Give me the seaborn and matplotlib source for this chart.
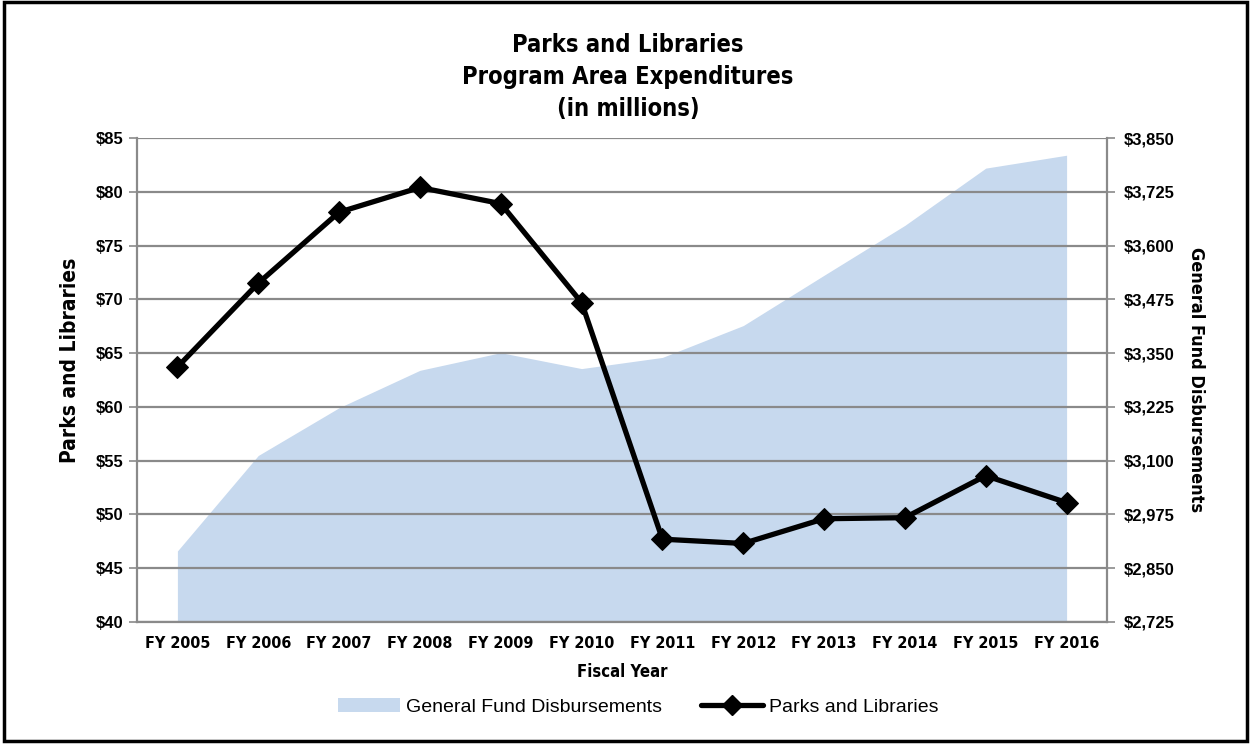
import pandas as pd
import matplotlib.pyplot as plt
import seaborn as sns
from matplotlib.patches import Patch, Rectangle
from matplotlib.lines import Line2D
from matplotlib.ticker import FuncFormatter, FixedLocator

# -----------------------------
# Data ($ millions)
# -----------------------------
fiscal_years = ["FY 2005", "FY 2006", "FY 2007", "FY 2008", "FY 2009", "FY 2010",
                "FY 2011", "FY 2012", "FY 2013", "FY 2014", "FY 2015", "FY 2016"]
parks_libraries = [63.7, 71.5, 78.1, 80.4, 78.9, 69.7, 47.7, 47.3, 49.6, 49.7, 53.6, 51.1]
general_fund = [2890, 3112, 3223, 3310, 3351, 3314, 3340, 3414, 3531, 3647, 3780, 3810]

left_ticks = [40, 45, 50, 55, 60, 65, 70, 75, 80, 85]
right_ticks = [2725, 2850, 2975, 3100, 3225, 3350, 3475, 3600, 3725, 3850]

df = pd.DataFrame({"year": fiscal_years, "parks": parks_libraries, "gf": general_fund})

# -----------------------------
# Style
# -----------------------------
sns.set_style("white")
plt.rcParams["font.family"] = ["Liberation Sans", "DejaVu Sans"]
plt.rcParams["text.color"] = "black"
plt.rcParams["axes.labelcolor"] = "black"
NARROW = dict(family="DejaVu Sans", stretch="condensed", fontweight="bold", color="black")

AREA_COLOR = "#c7d9ee"
GRID_COLOR = "#8a8a8a"

fig = plt.figure(figsize=(12.51, 7.44), dpi=100)
ax = fig.add_axes([0.1095, 0.164, 0.7754, 0.6505])
ax2 = ax.twinx()

# general fund area on the right axis (behind)
pos = list(range(len(fiscal_years)))
ax2.fill_between(pos, general_fund, right_ticks[0], color=AREA_COLOR, linewidth=0)
ax2.set_ylim(right_ticks[0], right_ticks[-1])

# parks and libraries line on the left axis (in front)
ax.set_zorder(ax2.get_zorder() + 1)
ax.patch.set_visible(False)
sns.lineplot(data=df, x="year", y="parks", ax=ax, color="black", linewidth=3.8,
             marker="D", markersize=11, markeredgecolor="black", sort=False)
ax.set_ylim(left_ticks[0], left_ticks[-1])
ax.set_xlim(-0.5, len(fiscal_years) - 0.5)
ax2.set_xlim(-0.5, len(fiscal_years) - 0.5)

# grid and ticks
ax.set_yticks(left_ticks)
ax.yaxis.set_major_formatter(FuncFormatter(lambda v, p: f"${v:,.0f}"))
ax.grid(axis="y", color=GRID_COLOR, linewidth=1.6)
ax.set_xticks(pos)
ax.set_xticklabels(fiscal_years, fontsize=11.5, **NARROW)
ax.xaxis.set_minor_locator(FixedLocator([p + 0.5 for p in pos[:-1]]))
ax.tick_params(axis="x", which="major", length=0, pad=10)
ax.tick_params(axis="x", which="minor", length=5, color=GRID_COLOR, width=1.2)
ax.tick_params(axis="y", length=6, color=GRID_COLOR, width=1.2, pad=4, labelsize=12,
               labelcolor="black")
for lab in ax.get_yticklabels():
    lab.set_fontweight("bold")

ax2.set_yticks(right_ticks)
ax2.yaxis.set_major_formatter(FuncFormatter(lambda v, p: f"${v:,.0f}"))
ax2.tick_params(axis="y", length=6, color=GRID_COLOR, width=1.2, pad=6, labelsize=12,
                labelcolor="black")
for lab in ax2.get_yticklabels():
    lab.set_fontweight("bold")

for a in (ax, ax2):
    for s in a.spines.values():
        s.set_visible(False)
ax.spines["left"].set_visible(True)
ax.spines["bottom"].set_visible(True)
ax2.spines["right"].set_visible(True)
for s in (ax.spines["left"], ax.spines["bottom"], ax2.spines["right"]):
    s.set_color(GRID_COLOR)
    s.set_linewidth(1.6)

# labels
ax.set_xlabel("Fiscal Year", fontsize=12, labelpad=9, **NARROW)
ax.set_ylabel("Parks and Libraries", fontsize=15, **NARROW)
ax.yaxis.set_label_coords(-0.059, 0.54)
ax2.set_ylabel("General Fund Disbursements", fontsize=13, rotation=270, **NARROW)
ax2.yaxis.set_label_coords(1.101, 0.5)

fig.text(0.502, 0.955, "Parks and Libraries\nProgram Area Expenditures\n(in millions)",
         ha="center", va="top", fontsize=17, linespacing=1.42, **NARROW)

# legend
handles = [
    Patch(facecolor=AREA_COLOR, edgecolor="none", label="General Fund Disbursements"),
    Line2D([0], [0], color="black", linewidth=3.8, marker="D", markersize=10,
           label="Parks and Libraries"),
]
fig.legend(handles=handles, loc="center", bbox_to_anchor=(0.51, 0.05), ncol=2,
           frameon=False, fontsize=14, handlelength=3.2, columnspacing=2.0,
           handletextpad=0.3)

# outer frame
fig.patches.append(Rectangle((0.003, 0.004), 0.994, 0.993, transform=fig.transFigure,
                             fill=False, edgecolor="black", linewidth=2.5))

plt.savefig("out.png", dpi=100)
